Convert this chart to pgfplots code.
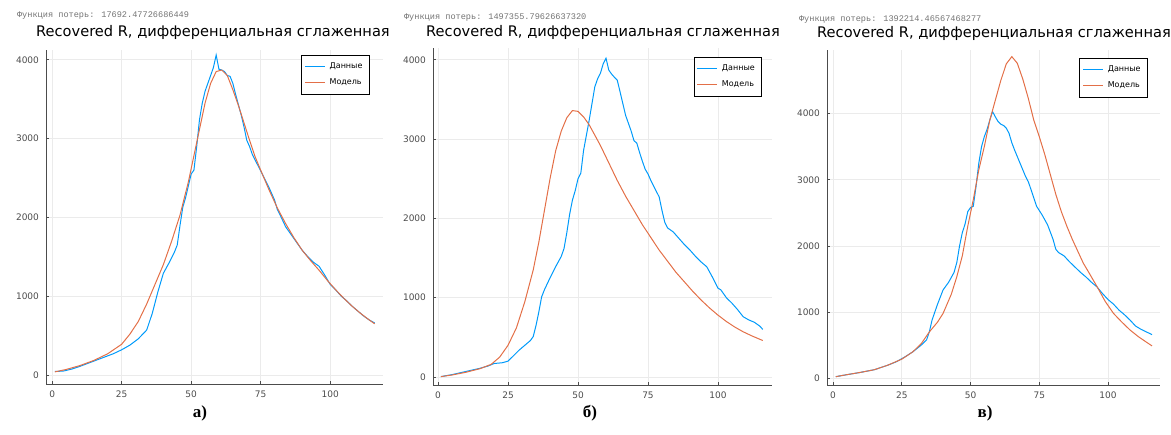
\documentclass[border=0pt]{standalone}
\usepackage{fontspec}
\setmainfont{DejaVu Sans}
\newfontfamily\capfont{Liberation Serif}
\newfontfamily\smallmono{Liberation Mono}
\usepackage{pgfplots}
\pgfplotsset{compat=1.18}
\definecolor{jblue}{RGB}{0,154,250}
\definecolor{jred}{RGB}{227,111,71}
\pgfplotsset{
  jstyle/.style={
    scale only axis,
    axis x line*=bottom, axis y line*=left,
    axis line style={black!70, line width=0.5pt, -},
    tick align=inside, major tick length=1.5pt,
    tick style={black!70, line width=0.4pt},
    grid=major, grid style={black!8, line width=0.4pt},
    xtick={0,25,50,75,100}, ytick={0,1000,2000,3000,4000},
    /pgf/number format/assume math mode=true,
    /pgf/number format/1000 sep={},
    tick label style={font=\fontsize{4.5}{5}\selectfont, text=black!70},
    legend cell align=left,
    legend style={draw=black, line width=0.4pt, font=\fontsize{4}{4.5}\selectfont,
      inner sep=1.5pt, row sep=-0.5pt, anchor=north east},
    legend image code/.code={\draw[#1] (0pt,0pt) -- (10pt,0pt);},
    every axis plot/.append style={line width=0.5pt, no marks},
  }
}
\begin{document}
\begin{tikzpicture}
\path[use as bounding box] (0,0) rectangle (585.5pt,-217pt);

% ---------------- panel a
\begin{axis}[jstyle, at={(23pt,-192pt)}, anchor=south west,
  width=168.5pt, height=167pt,
  xmin=-2.2, xmax=119, ymin=-114, ymax=4124,
  legend style={at={(0.961,0.985)}}]
\addplot[jblue] coordinates {(1,45)(4,50)(7,75)(10,110)(13,150)(16,190)(19,230)(22,270)(25,320)(28,380)(31,460)(34,570)(36,780)(38,1050)(40,1290)(42,1420)(44,1560)(45,1650)(46,1900)(47,2130)(48,2250)(49,2400)(50,2550)(51,2600)(52,2900)(53,3240)(54,3450)(55,3600)(56,3700)(57,3800)(58,3900)(59,4060)(60,3880)(61,3870)(62,3850)(63,3800)(64,3790)(65,3700)(66,3560)(67,3430)(68,3300)(69,3150)(70,2980)(71,2900)(72,2800)(74,2660)(76,2520)(78,2380)(80,2220)(81,2100)(82,2030)(84,1880)(86,1780)(88,1680)(90,1580)(92,1500)(94,1430)(96,1380)(98,1270)(100,1150)(102,1080)(104,1000)(106,940)(108,870)(110,810)(112,750)(114,700)(116,660)};
\addlegendentry{Данные}
\addplot[jred] coordinates {(1,40)(5,70)(10,120)(15,185)(20,270)(25,390)(28,520)(31,680)(34,900)(37,1150)(40,1400)(43,1700)(46,2030)(49,2450)(52,2950)(55,3450)(57,3700)(59,3850)(61,3870)(63,3800)(65,3620)(67,3420)(69,3200)(71,2980)(73,2770)(75,2600)(78,2350)(81,2120)(84,1920)(87,1740)(90,1580)(93,1450)(96,1330)(99,1200)(102,1080)(105,970)(108,870)(111,780)(114,700)(116,650)};
\addlegendentry{Модель}
\end{axis}

% ---------------- panel b
\begin{axis}[jstyle, at={(216.5pt,-192.5pt)}, anchor=south west,
  width=169.5pt, height=168.5pt,
  xmin=-1.8, xmax=119.3, ymin=-101, ymax=4149,
  legend style={at={(0.971,0.973)}}]
\addplot[jblue] coordinates {(1,5)(5,30)(10,70)(15,110)(18,140)(20,170)(23,180)(25,200)(27,270)(29,340)(31,400)(33,460)(34,510)(35,650)(36,820)(37,1010)(38,1100)(40,1250)(42,1390)(44,1520)(45,1620)(46,1820)(47,2050)(48,2230)(49,2350)(50,2500)(51,2570)(52,2860)(53,3050)(54,3240)(55,3450)(56,3660)(57,3760)(58,3830)(59,3950)(60,4020)(61,3870)(62,3820)(63,3780)(64,3745)(65,3600)(66,3450)(67,3300)(68,3200)(69,3100)(70,2980)(71,2950)(72,2830)(73,2720)(74,2620)(75,2560)(76,2480)(78,2340)(79,2270)(80,2100)(81,1950)(82,1880)(84,1830)(86,1750)(88,1670)(90,1600)(92,1520)(94,1450)(96,1390)(98,1260)(100,1120)(101,1100)(103,1000)(105,930)(107,850)(109,760)(111,720)(113,690)(115,640)(116,600)};
\addlegendentry{Данные}
\addplot[jred] coordinates {(1,5)(5,25)(10,60)(15,105)(19,160)(22,250)(25,400)(28,620)(31,950)(34,1350)(36,1700)(38,2100)(40,2500)(42,2850)(44,3100)(46,3270)(48,3360)(50,3350)(52,3280)(54,3180)(56,3050)(58,2920)(61,2700)(64,2480)(67,2280)(70,2100)(73,1920)(76,1760)(79,1600)(82,1460)(85,1320)(88,1200)(91,1080)(94,970)(97,870)(100,780)(103,700)(106,630)(109,570)(112,520)(115,475)(116,460)};
\addlegendentry{Модель}
\end{axis}

% ---------------- panel c
\begin{axis}[jstyle, at={(413.5pt,-192.5pt)}, anchor=south west,
  width=166.5pt, height=167.5pt,
  xmin=-2.2, xmax=118.9, ymin=-101, ymax=4960,
  legend style={at={(0.964,0.976)}}]
\addplot[jblue] coordinates {(1,25)(5,55)(10,90)(15,130)(20,200)(23,250)(26,320)(29,400)(32,500)(34,580)(35,700)(36,880)(37,1000)(38,1120)(40,1335)(42,1450)(44,1600)(45,1750)(46,2000)(47,2200)(48,2330)(49,2520)(50,2580)(51,2600)(52,2900)(53,3250)(54,3500)(55,3650)(56,3760)(57,3900)(58,4030)(59,3950)(60,3880)(61,3840)(62,3820)(63,3780)(64,3700)(65,3560)(66,3450)(67,3350)(68,3250)(70,3050)(71,2970)(72,2850)(74,2600)(76,2470)(78,2320)(80,2100)(81,1950)(82,1900)(84,1850)(86,1760)(88,1680)(90,1600)(92,1530)(94,1450)(96,1380)(98,1280)(100,1190)(102,1120)(104,1030)(106,960)(108,880)(110,790)(112,740)(114,700)(116,660)};
\addlegendentry{Данные}
\addplot[jred] coordinates {(1,25)(5,55)(10,90)(15,130)(20,200)(25,290)(29,400)(32,520)(35,700)(38,850)(40,980)(43,1270)(45,1535)(47,1850)(49,2300)(51,2700)(53,3150)(55,3500)(57,3900)(59,4200)(61,4500)(63,4750)(65,4860)(67,4760)(69,4520)(71,4230)(73,3900)(75,3650)(77,3380)(79,3080)(81,2780)(83,2520)(85,2300)(87,2100)(89,1920)(91,1740)(93,1600)(96,1385)(99,1160)(102,980)(105,850)(108,730)(111,630)(114,545)(116,490)};
\addlegendentry{Модель}
\end{axis}

% ---------------- texts
\node[anchor=west, text=black!55, font=\smallmono\fontsize{4.3}{5}\selectfont] at (5pt,-8pt) {Функция потерь: 17692.47726686449};
\node[anchor=west, text=black!55, font=\smallmono\fontsize{4.3}{5}\selectfont] at (198.5pt,-9pt) {Функция потерь: 1497355.79626637320};
\node[anchor=west, text=black!55, font=\smallmono\fontsize{4.3}{5}\selectfont] at (396pt,-10pt) {Функция потерь: 1392214.46567468277};
\node[font=\fontsize{7.3}{8}\selectfont] at (106.5pt,-16pt) {Recovered R, дифференциальная сглаженная};
\node[font=\fontsize{7.3}{8}\selectfont] at (301.5pt,-16pt) {Recovered R, дифференциальная сглаженная};
\node[font=\fontsize{7.3}{8}\selectfont] at (497pt,-16.5pt) {Recovered R, дифференциальная сглаженная};
\node[font=\capfont\bfseries\fontsize{8.5}{10}\selectfont] at (100pt,-206.5pt) {а)};
\node[font=\capfont\bfseries\fontsize{8.5}{10}\selectfont] at (295pt,-206.5pt) {б)};
\node[font=\capfont\bfseries\fontsize{8.5}{10}\selectfont] at (492.5pt,-206.5pt) {в)};
\end{tikzpicture}
\end{document}
